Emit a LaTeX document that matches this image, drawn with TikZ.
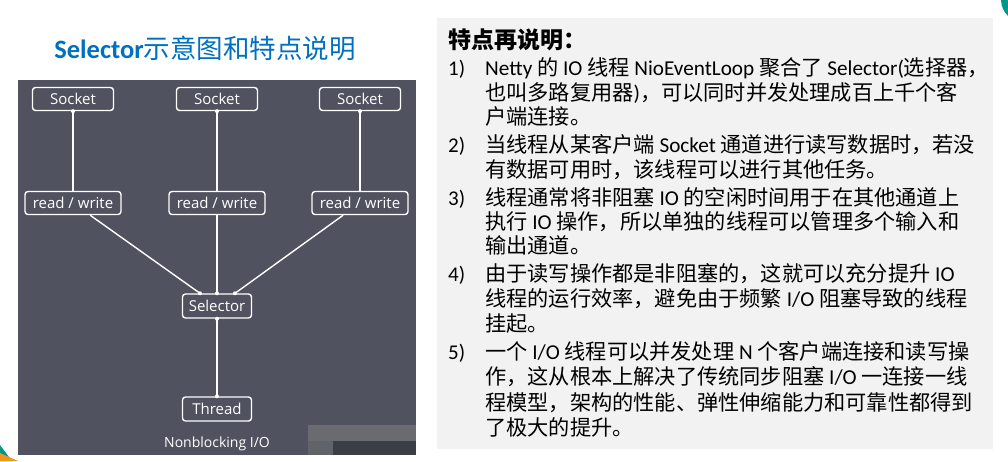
\documentclass[tikz,border=0pt]{standalone}
\usepackage{fontspec}
\setmainfont{Noto Sans CJK SC}
\newfontfamily\latfont{Carlito}
\newfontfamily\uifont{Open Sans}
\newcommand\lat[1]{{\latfont #1}}
\definecolor{panelgray}{RGB}{80,83,95}
\definecolor{notegray}{RGB}{242,242,242}
\definecolor{titleblue}{RGB}{0,112,192}
\definecolor{decoteal}{RGB}{0,150,136}
\definecolor{decoorange}{RGB}{240,150,30}
\tikzset{
  box/.style={draw=white, line width=1.4pt, rounded corners=3pt, text=white, inner sep=0pt,
    minimum height=23pt, font=\uifont\fontsize{15}{15}\selectfont},
  link/.style={white, line width=1.4pt},
  note/.style={anchor=base west, inner sep=0pt, font=\fontsize{21.2}{21.2}\selectfont},
  num/.style={anchor=base west, inner sep=0pt, font=\latfont\fontsize{21}{21}\selectfont},
}
\begin{document}
\begin{tikzpicture}[x=1pt,y=-1pt]
        \useasboundingbox (0,0) rectangle (1008,461);
        \fill[panelgray] (18,80) rectangle (416,455);
        \fill[notegray] (437,18) rectangle (993,449);
        \fill[decoteal] (0,445) -- (12,461) -- (0,461) -- cycle;
        \fill[decoorange] (0,453) -- (18,461) -- (0,461) -- cycle;
        \fill[decoteal] (1001,0) -- (1008,0) -- (1008,16) to[bend left=20] cycle;
        % blurred watermark
        \fill[gray!55!panelgray] (308,425) rectangle (416,441);
        \fill[gray!35!panelgray] (308,441) rectangle (333,455);
        \fill[black!25!panelgray] (333,441) rectangle (416,455);
        \node[text=titleblue, font=\fontsize{26.5}{26.5}\selectfont] (title) at (205,48) {{\latfont\bfseries Selector}示意图和特点说明};
        \foreach \x/\n in {73/a,217/b,360/c}{
            \node[box, minimum width=81pt] (sock\n) at (\x,99) {Socket};
            \node[box, minimum width=96pt] (rw\n) at (\x,203) {read / write};
            \draw[link] (sock\n) -- (rw\n);
            \fill[white] (sock\n.south) circle (2pt);
        }
        \node[box, minimum width=69pt, minimum height=24pt] (sel) at (217,306) {Selector};
        \node[box, minimum width=69pt, minimum height=24pt] (thr) at (217,409) {Thread};
        \coordinate (selL) at ([xshift=-17pt]sel.north);
        \coordinate (selR) at ([xshift=18pt]sel.north);
        \draw[link] (rwa) -- (selL);
        \draw[link] (rwb) -- (sel);
        \draw[link] (rwc) -- (selR);
        \draw[link] (sel) -- (thr);
        \foreach \p in {selL,sel.north,selR,sel.south,thr.north}{\fill[white] (\p) circle (2pt);}
        \node[text=white, font=\uifont\fontsize{14}{14}\selectfont] (cap) at (217,444) {Nonblocking I/O};
        \node[anchor=base west, inner sep=0pt, font=\bfseries\fontsize{23}{23}\selectfont] (head) at (448,48.5) {特点再说明：};
        \node[num] (n1) at (448,75.5) {1)};
        \node[note] (l1a) at (485,75.5) {\lat{Netty} 的 \lat{IO} 线程 \lat{NioEventLoop} 聚合了 \lat{Selector(}选择器，};
        \node[note] (l1b) at (485,100.5) {也叫多路复用器\lat{)}，可以同时并发处理成百上千个客};
        \node[note] (l1c) at (485,124.5) {户端连接。};
        \node[num] (n2) at (448,152.5) {2)};
        \node[note] (l2a) at (485,152.5) {当线程从某客户端 \lat{Socket} 通道进行读写数据时，若没};
        \node[note] (l2b) at (485,177.5) {有数据可用时，该线程可以进行其他任务。};
        \node[num] (n3) at (448,205.5) {3)};
        \node[note] (l3a) at (485,205.5) {线程通常将非阻塞 \lat{IO} 的空闲时间用于在其他通道上};
        \node[note] (l3b) at (485,229.5) {执行 \lat{IO} 操作，所以单独的线程可以管理多个输入和};
        \node[note] (l3c) at (485,253.5) {输出通道。};
        \node[num] (n4) at (448,281.5) {4)};
        \node[note] (l4a) at (485,281.5) {由于读写操作都是非阻塞的，这就可以充分提升 \lat{IO}};
        \node[note] (l4b) at (485,306.5) {线程的运行效率，避免由于频繁 \lat{I/O} 阻塞导致的线程};
        \node[note] (l4c) at (485,331.5) {挂起。};
        \node[num] (n5) at (448,359.5) {5)};
        \node[note] (l5a) at (485,359.5) {一个 \lat{I/O} 线程可以并发处理 \lat{N} 个客户端连接和读写操};
        \node[note] (l5b) at (485,384.5) {作，这从根本上解决了传统同步阻塞 \lat{I/O} 一连接一线};
        \node[note] (l5c) at (485,410.5) {程模型，架构的性能、弹性伸缩能力和可靠性都得到};
        \node[note] (l5d) at (485,435.5) {了极大的提升。};
    \end{tikzpicture}
\end{document}
